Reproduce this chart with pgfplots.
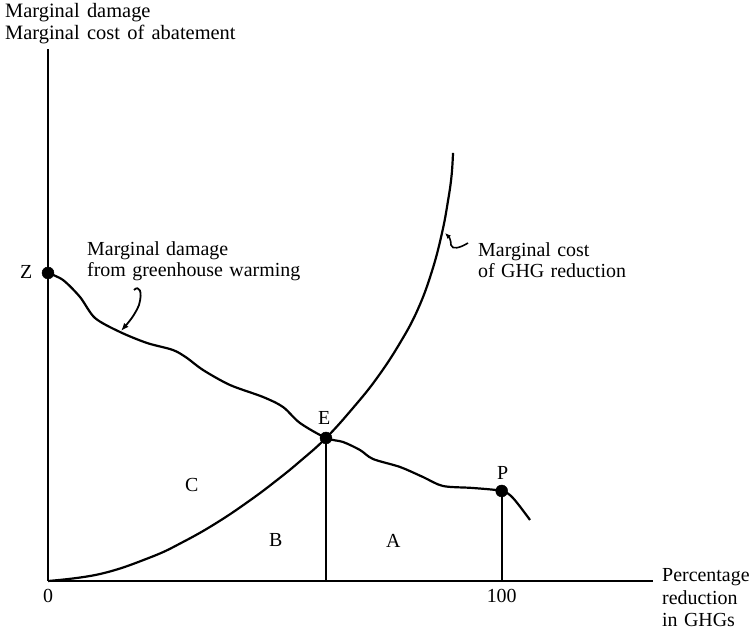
\documentclass[border=0pt]{standalone}
\usepackage{pgfplots}
\pgfplotsset{compat=1.18}
\usetikzlibrary{arrows.meta}
\usepackage{fontspec}
\setmainfont{Liberation Serif}
\newcommand\lblfont{\fontsize{20}{22}\selectfont\spaceskip=0.32em plus 0.1em}
\newcommand\topfont{\fontsize{20.5}{22}\selectfont\spaceskip=0.36em plus 0.1em}
\begin{document}
\begin{tikzpicture}[x=1bp,y=1bp,font=\lblfont]
\useasboundingbox (-48,-53) rectangle (703,581);
\begin{axis}[at={(0,0)}, anchor=origin,
  x=4.537bp, y=4.537bp,
  xmin=0, xmax=133.3, ymin=0, ymax=117.3,
  axis lines=left,
  axis line style={-, line width=1.9bp},
  xtick={0,100}, xticklabels={0,100}, ytick=\empty,
  major tick length=0pt,
  xticklabel style={font=\lblfont, inner sep=0pt, yshift=-8bp, anchor=north},
  /pgf/number format/assume math mode=true,
  clip=false]
% marginal damage
\addplot[black, line width=2.2bp, smooth, tension=0.5] coordinates {
(0,67.89) (3.31,66.34) (7.05,62.60) (10.36,57.97) (15.87,54.88) (21.82,52.46)
(27.55,50.91) (30.64,49.15) (34.16,46.51) (40.11,43.20) (47.39,40.56) (51.80,38.35)
(55.54,34.82) (61.27,31.52) (65.02,30.64) (68.77,28.87) (71.63,26.89) (77.58,25.13)
(82.65,22.92) (87.06,20.94) (93.67,20.50) (100,19.84) (102.49,18.29) (106.24,13.45)};
% marginal cost
\addplot[black, line width=2.2bp, smooth, tension=0.7] coordinates {
(0,0) (11.46,1.54) (22.48,5.18) (29.76,8.60) (37.25,12.87) (44.52,17.77)
(50.47,22.24) (55.54,26.38) (61.27,31.52) (67.22,38.13) (72.51,44.74)
(77.58,52.46) (81.55,59.95) (84.64,68.33) (86.84,76.70) (88.16,83.76)
(88.94,89.27) (89.27,94.34)};
% drop lines
\addplot[black, line width=1.8bp] coordinates {(61.27,0) (61.27,31.52)};
\addplot[black, line width=1.8bp] coordinates {(100,0) (100,19.84)};
% points
\addplot[only marks, mark=*, mark size=6bp, black] coordinates {(0,67.89) (61.27,31.52) (100,19.84)};
\end{axis}
% labels
\node[anchor=base west, inner sep=0pt, font=\topfont] at (-43,563) {Marginal damage};
\node[anchor=base west, inner sep=0pt, font=\topfont] at (-43,541) {Marginal cost of abatement};
\node[anchor=base west, inner sep=0pt] at (-28,302) {Z};
\node[anchor=base west, inner sep=0pt] at (39,325) {Marginal damage};
\node[anchor=base west, inner sep=0pt] at (39,304) {from greenhouse warming};
\node[anchor=base west, inner sep=0pt] at (430,324) {Marginal cost};
\node[anchor=base west, inner sep=0pt] at (430,303) {of GHG reduction};
\node[anchor=base west, inner sep=0pt] at (270,156) {E};
\node[anchor=base west, inner sep=0pt] at (449,101) {P};
\node[anchor=base west, inner sep=0pt] at (137,89) {C};
\node[anchor=base west, inner sep=0pt] at (221,34) {B};
\node[anchor=base west, inner sep=0pt] at (338,33) {A};
\node[anchor=base west, inner sep=0pt] at (614,-1) {Percentage};
\node[anchor=base west, inner sep=0pt] at (614,-24) {reduction};
\node[anchor=base west, inner sep=0pt] at (614,-46) {in GHGs};
% arrows
\draw[line width=1.8bp, -{Latex[length=8bp,width=6bp]}] (86,291) .. controls (91,296) and (95,290) .. (91,276) .. controls (87,266) and (80,258) .. (73,250);
\draw[line width=1.6bp, -{Latex[length=6bp,width=5bp]}] (420,338) .. controls (412,333) and (404,331) .. (403,336) .. controls (403,341) and (401,344) .. (397,348);
\end{tikzpicture}
\end{document}
